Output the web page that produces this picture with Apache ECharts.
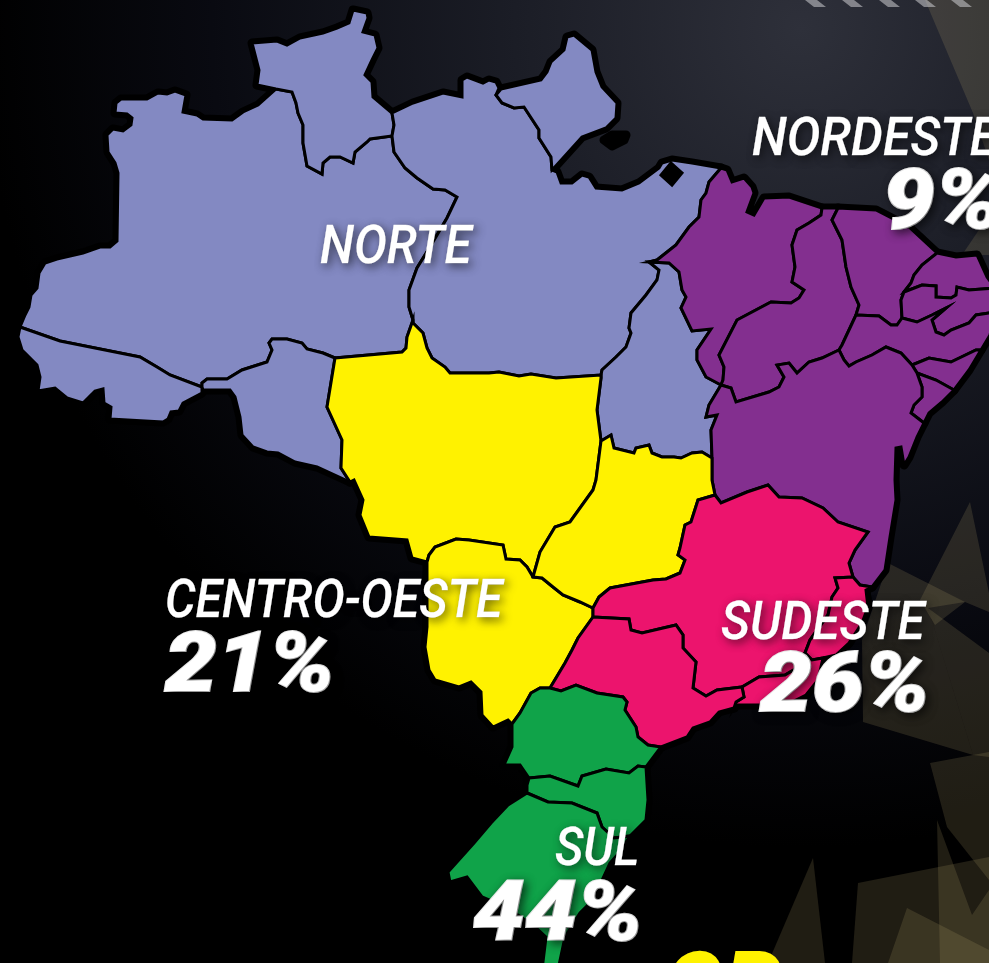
<!DOCTYPE html>
<html>
<head>
<meta charset="utf-8">
<title>Brasil</title>
<style>
  html, body { margin: 0; padding: 0; background: #000; overflow: hidden; }
  #main { width: 989px; height: 963px; }
</style>
<script src="https://cdn.jsdelivr.net/npm/echarts@6/dist/echarts.min.js"></script>
</head>
<body>
<div id="main"></div>
<script>
// regioes e percentuais
const regionNames = ['NORTE', 'NORDESTE', 'CENTRO-OESTE', 'SUDESTE', 'SUL'];
const regionShares = [null, 9, 21, 26, 44];
const regionColors = ['#8389c2', '#832f8f', '#fff200', '#ec146d', '#10a349'];

const norteStates = ['AM', 'AC', 'RO', 'RR', 'PA', 'AP', 'TO'];
const nordesteStates = ['MA', 'PI', 'CE', 'RN', 'PB', 'PE', 'AL', 'SE', 'BA'];
const centroOesteStates = ['MT', 'MS', 'GO'];
const sudesteStates = ['MG', 'ES', 'RJ', 'SP'];
const sulStates = ['PR', 'SC', 'RS'];
const regionStates = [norteStates, nordesteStates, centroOesteStates, sudesteStates, sulStates];

// posicao dos textos: [x do nome, topo do nome, escala, x do %, topo do %]
const labelSpots = {
  'NORTE': [320, 223, 0.93],
  'NORDESTE': [752, 115, 0.95, 883, 165],
  'CENTRO-OESTE': [165, 577, 0.91, 165, 628],
  'SUDESTE': [721, 599, 0.93, 760, 648],
  'SUL': [555, 825, 0.91, 473, 877]
};

// contorno dos estados, em pixels da imagem; cada trecho eh compartilhado entre vizinhos
const edges = {
  amCoast: [[20,327],[25,315],[29,307],[31,295],[37,288],[39,273],[45,263],[57,259],[83,253],[100,247],[110,247],[117,241],[118,173],[115,163],[108,152],[107,135],[113,129],[123,131],[131,125],[132,118],[127,114],[115,113],[116,103],[121,99],[147,99],[158,93],[167,94],[175,91],[186,95],[183,112],[197,115],[203,119],[232,120],[243,112],[258,105],[276,89]],
  amRr: [[276,89],[292,92],[296,103],[298,113],[303,125],[303,143],[307,166],[322,174],[323,163],[330,157],[340,157],[353,163],[355,152],[367,142],[370,139],[392,136]],
  rrCoast: [[276,89],[257,85],[259,70],[252,43],[277,41],[287,45],[300,38],[323,33],[337,28],[349,23],[353,10],[367,13],[368,18],[363,32],[375,35],[378,48],[372,60],[365,75],[372,82],[373,97],[392,113]],
  rrPa: [[392,113],[394,125],[392,136]],
  amPa: [[392,136],[394,152],[405,168],[417,178],[433,189],[445,190],[457,197],[447,218],[430,247],[417,268],[409,290],[409,307],[413,320]],
  amMt: [[413,320],[407,337],[406,348],[402,352],[335,358]],
  amRo: [[335,358],[323,353],[307,349],[302,343],[287,339],[272,339],[269,343],[272,350],[267,362],[242,370],[227,379],[207,379],[202,383],[202,387]],
  amAc: [[202,387],[170,375],[157,367],[140,357],[100,349],[60,341],[20,327]],
  acOuter: [[20,327],[18,337],[22,350],[37,365],[40,377],[38,391],[55,388],[67,398],[83,403],[95,391],[103,389],[104,403],[111,407],[110,419],[163,422],[168,419],[171,412],[179,411],[183,403],[202,393],[202,387]],
  roOuter: [[202,387],[203,390],[230,390],[235,397],[240,417],[242,435],[253,447],[267,452],[278,453],[295,462],[317,467],[350,482]],
  roMt: [[350,482],[341,468],[342,440],[327,407],[335,358]],
  paCoast: [[392,113],[413,103],[443,93],[462,97],[462,80],[467,77],[483,83],[489,80],[496,82],[499,88],[496,95]],
  apPa: [[496,95],[502,103],[514,108],[524,107],[539,130],[539,138],[551,157],[552,170]],
  apCoast: [[496,95],[501,89],[541,80],[547,72],[551,62],[564,50],[567,37],[574,35],[592,50],[596,72],[602,87],[617,103],[616,118],[606,128],[582,137],[554,168],[552,170]],
  paCoast2: [[552,170],[557,172],[561,183],[572,183],[582,175],[589,177],[596,188],[622,190],[639,183],[659,168],[662,163],[672,160],[692,163],[721,168]],
  paMa: [[721,168],[709,182],[706,193],[701,200],[699,217],[689,227],[676,245],[657,260],[649,262]],
  paTo: [[649,262],[659,270],[657,280],[646,295],[631,313],[629,328],[631,333],[626,347],[616,357],[602,370],[601,375]],
  paMt: [[601,375],[556,378],[531,374],[519,376],[499,372],[489,373],[450,373],[445,367],[432,358],[427,348],[423,333],[413,323],[413,320]],
  toMa: [[649,262],[669,263],[679,272],[682,290],[686,297],[681,308],[692,331],[711,329],[697,350],[697,360],[706,377],[721,385]],
  toBa: [[721,385],[709,405],[706,417],[717,415],[711,430],[712,458]],
  toGo: [[712,458],[702,452],[692,453],[681,458],[674,457],[662,457],[652,453],[649,445],[636,448],[634,453],[614,448],[611,435],[601,441]],
  toMt: [[601,441],[597,410],[601,378],[601,375]],
  maCoast: [[721,168],[727,170],[732,182],[744,178],[752,187],[754,193],[747,212],[754,215],[764,198],[789,197],[822,208]],
  maPi: [[822,208],[821,215],[809,223],[797,230],[792,245],[795,267],[792,282],[804,290],[799,298],[791,303],[771,302],[737,320],[719,355],[724,367],[723,380],[721,385]],
  piCoast: [[822,208],[838,208]],
  piCe: [[838,208],[832,220],[842,240],[846,267],[851,287],[859,305],[856,315]],
  piPe: [[856,315],[842,345],[839,350]],
  piBa: [[839,350],[822,358],[809,362],[797,373],[789,363],[777,365],[784,377],[779,387],[769,392],[736,402],[731,388],[721,385]],
  ceCoast: [[838,208],[876,210],[909,227],[937,253]],
  ceRn: [[937,253],[922,265],[914,275],[911,283],[904,292]],
  cePb: [[904,292],[901,300],[902,318]],
  cePe: [[902,318],[897,325],[891,325],[879,316],[856,315]],
  rnCoast: [[937,253],[956,257],[977,255],[987,277],[995,288]],
  rnPb: [[995,288],[969,290],[957,287],[956,295],[951,298],[936,297],[936,286],[922,285],[904,292]],
  pbEast: [[995,288],[995,312]],
  pbPe: [[995,312],[976,315],[969,323],[951,330],[944,335],[936,332],[932,320],[946,308],[932,315],[917,322],[902,318]],
  peCoast: [[995,312],[990,335],[981,350]],
  peAl: [[981,350],[976,350],[951,362],[929,358],[912,365]],
  peBa: [[912,365],[901,353],[886,347],[872,355],[856,362],[849,366],[844,360],[839,350]],
  alCoast: [[981,350],[969,370],[954,390]],
  alSe: [[954,390],[936,380],[917,373]],
  alBa: [[917,373],[912,365]],
  seCoast: [[954,390],[942,402],[929,413],[924,423]],
  seBa: [[924,423],[911,413],[914,405],[922,397],[922,387],[917,373]],
  baCoast: [[924,423],[917,437],[909,457],[904,465],[901,447],[896,448],[895,480],[896,500],[890,537],[885,570],[872,587]],
  baEs: [[872,587],[860,585],[853,577]],
  baMg: [[853,577],[849,563],[855,550],[868,532],[838,522],[823,508],[802,498],[779,497],[768,485],[747,492],[721,503],[715,495]],
  baGo: [[715,495],[712,480],[712,458]],
  mgEs: [[853,577],[835,578],[838,588],[832,597],[828,615],[810,640],[805,653]],
  esRj: [[805,653],[812,660],[823,658]],
  esCoast: [[872,587],[866,590],[868,607],[862,623],[849,643],[836,655],[823,658]],
  rjCoast: [[823,658],[818,680],[806,695],[790,703],[760,705],[736,705],[734,708]],
  spRj: [[734,708],[736,702],[744,697],[742,687]],
  mgRj: [[742,687],[759,677],[785,675],[797,668],[805,653]],
  goMg: [[715,495],[698,500],[691,522],[685,525],[680,548],[678,555],[685,560],[680,573],[666,579],[653,580],[610,588],[599,597],[593,608]],
  mgSp: [[742,687],[717,690],[706,696],[693,688],[696,662],[683,648],[683,635],[676,625],[642,633],[631,630],[629,619],[593,617]],
  msMg: [[593,617],[593,608]],
  goMs: [[593,608],[580,602],[563,595],[553,587],[542,578],[533,577]],
  mtGo: [[601,441],[596,480],[593,490],[570,522],[555,527],[540,552],[533,577]],
  mtMs: [[533,577],[527,567],[520,560],[506,559],[503,545],[469,540],[456,539],[435,547],[429,555],[427,562]],
  mtOuter: [[427,562],[412,558],[407,540],[369,537],[360,515],[363,500],[354,480],[350,482]],
  msSp: [[593,617],[578,638],[572,650],[565,663],[550,688]],
  msPr: [[550,688],[540,688],[531,693],[520,713],[512,724]],
  msOuter: [[512,724],[508,720],[493,727],[482,715],[481,692],[471,682],[459,687],[435,680],[429,670],[425,647],[427,627],[427,562]],
  spCoast: [[734,708],[719,712],[710,722],[693,728],[687,737],[661,747]],
  prSp: [[550,688],[561,691],[576,685],[597,693],[623,697],[627,702],[625,710],[636,727],[638,737],[648,745],[661,747]],
  prCoast: [[661,747],[646,767]],
  prSc: [[529,778],[550,776],[578,786],[582,776],[606,769],[629,773],[638,766],[646,767]],
  prWest: [[529,778],[520,765],[504,765],[512,747],[512,724]],
  scCoast: [[646,767],[648,800],[646,820],[630,836]],
  rsSc: [[527,793],[548,802],[572,803],[597,813],[602,827],[614,838],[630,836]],
  scWest: [[527,793],[527,785],[529,778]],
  rsOuter: [[630,836],[619,853],[610,863],[593,900],[580,913],[565,937],[558,970],[542,970],[546,937],[535,927],[508,908],[482,897],[467,877],[450,882],[448,872],[474,843],[491,823],[508,805],[527,793]]
};

// '-' na frente percorre o trecho ao contrario
const stateRings = {
  AM: ['amCoast', 'amRr', 'amPa', 'amMt', 'amRo', 'amAc'],
  AC: ['acOuter', 'amAc'],
  RO: ['roOuter', 'roMt', 'amRo'],
  RR: ['rrCoast', 'rrPa', '-amRr'],
  PA: ['paCoast', 'apPa', 'paCoast2', 'paMa', 'paTo', 'paMt', '-amPa', '-rrPa'],
  AP: ['apCoast', '-apPa'],
  TO: ['toMa', 'toBa', 'toGo', 'toMt', '-paTo'],
  MA: ['maCoast', 'maPi', '-toMa', '-paMa'],
  PI: ['piCoast', 'piCe', 'piPe', 'piBa', '-maPi'],
  CE: ['ceCoast', 'ceRn', 'cePb', 'cePe', '-piCe'],
  RN: ['rnCoast', 'rnPb', '-ceRn'],
  PB: ['-rnPb', 'pbEast', 'pbPe', '-cePb'],
  PE: ['-cePe', '-pbPe', 'peCoast', 'peAl', 'peBa', '-piPe'],
  AL: ['alCoast', 'alSe', 'alBa', '-peAl'],
  SE: ['seCoast', 'seBa', '-alSe'],
  BA: ['baCoast', 'baEs', 'baMg', 'baGo', '-toBa', '-piBa', '-peBa', '-alBa', '-seBa'],
  MT: ['-paMt', '-toMt', 'mtGo', 'mtMs', 'mtOuter', 'roMt', '-amMt'],
  MS: ['-mtMs', '-goMs', '-msMg', 'msSp', 'msPr', 'msOuter'],
  GO: ['-toGo', '-baGo', 'goMg', 'goMs', '-mtGo'],
  MG: ['-baMg', 'mgEs', '-mgRj', 'mgSp', 'msMg', '-goMg'],
  ES: ['esCoast', '-esRj', '-mgEs', '-baEs'],
  RJ: ['esRj', 'rjCoast', 'spRj', 'mgRj'],
  SP: ['-mgSp', '-spRj', 'spCoast', '-prSp', '-msSp'],
  PR: ['-msPr', 'prSp', 'prCoast', '-prSc', 'prWest'],
  SC: ['prSc', 'scCoast', '-rsSc', 'scWest'],
  RS: ['rsSc', 'rsOuter']
};

// marcas pretas do litoral do Para
const blackMarks = {
  diamante: [[671,163],[682,173],[672,185],[661,175]],
  marajo: [[604,140],[612,135],[626,135],[624,140],[612,146]]
};

// triangulos dourados do fundo
const backdropShards = [
  [[925,0],[989,0],[989,160],[973,113]],
  [[962,255],[989,215],[989,255]],
  [[888,563],[965,602],[928,608],[973,755],[863,722],[862,640]],
  [[970,502],[920,600],[935,625],[965,602],[989,612],[989,593]],
  [[928,608],[989,653],[989,757],[973,755]],
  [[930,763],[989,752],[989,880],[947,827]],
  [[937,820],[972,915],[989,890],[989,963],[940,963]],
  [[858,883],[989,857],[989,963],[852,963]],
  [[813,858],[768,963],[825,963]],
  [[907,908],[888,963],[989,963],[989,950]]
];
const topDashes = [805, 842, 879, 915, 951];

function ringPoints(names) {
  const points = [];
  names.forEach((name) => {
    const reversed = name[0] === '-';
    const edge = edges[reversed ? name.slice(1) : name];
    const part = reversed ? edge.slice().reverse() : edge;
    part.forEach((p, index) => {
      if (index > 0 || points.length === 0) points.push(p);
    });
  });
  return points;
}

function buildGeoJson() {
  const polygon = (name, ring) => ({
    type: 'Feature', properties: { name }, geometry: { type: 'Polygon', coordinates: [ring] }
  });
  const features = Object.keys(stateRings).map((name) => polygon(name, ringPoints(stateRings[name])));
  Object.keys(blackMarks).forEach((name) => features.push(polygon(name, blackMarks[name])));
  return { type: 'FeatureCollection', features };
}

function buildStateData() {
  const data = [];
  regionStates.forEach((states, index) => {
    states.forEach((name) => {
      data.push({ name, value: regionShares[index], itemStyle: { areaColor: regionColors[index] } });
    });
  });
  return data;
}

function textElement(text, x, y, font, scaleX, strokeWidth) {
  return {
    type: 'text', x, y, scaleX, z: 10, silent: true,
    style: {
      text, font, fill: '#fff', stroke: '#fff', lineWidth: strokeWidth, strokeFirst: true,
      textShadowBlur: 10, textShadowColor: 'rgba(0,0,0,0.6)', textShadowOffsetX: 3, textShadowOffsetY: 3
    }
  };
}

function buildLabels() {
  const elements = [];
  regionNames.forEach((name, index) => {
    const spot = labelSpots[name];
    elements.push(textElement(name, spot[0], spot[1], 'italic 500 53px Roboto', spot[2], 0.3));
    if (regionShares[index] !== null) {
      elements.push(textElement(regionShares[index] + '%', spot[3], spot[4], 'italic 900 84px Roboto', 1.1, 2));
    }
  });
  return elements;
}

function buildBackdrop() {
  const elements = backdropShards.map((points) => ({
    type: 'polygon', z: -1, silent: true,
    shape: { points },
    style: { fill: 'rgba(200,180,120,0.16)' }
  }));
  topDashes.forEach((x) => {
    elements.push({
      type: 'polygon', z: -1, silent: true,
      shape: { points: [[x, 0], [x + 12, 0], [x + 21, 7], [x + 9, 7]] },
      style: { fill: 'rgba(205,205,210,0.55)' }
    });
  });
  // topo das letras amarelas cortadas na borda de baixo
  elements.push({
    type: 'text', x: 664, y: 948, z: 10, silent: true,
    style: { text: 'OP', font: 'italic 900 90px Roboto', fill: '#fff200' }
  });
  return elements;
}

function render() {
  echarts.registerMap('brasil', buildGeoJson());
  const chart = echarts.init(document.getElementById('main'), null, { width: 989, height: 963 });
  const flat = { project: (p) => p, unproject: (p) => p };
  const frame = [[0, 0], [989, 963]];

  chart.setOption({
    animation: false,
    backgroundColor: new echarts.graphic.RadialGradient(0.81, 0.03, 0.85, [
      { offset: 0, color: '#2e303a' },
      { offset: 0.35, color: '#1b1d26' },
      { offset: 0.72, color: '#090a11' },
      { offset: 1, color: '#000000' }
    ]),
    graphic: { elements: buildBackdrop().concat(buildLabels()) },
    geo: {
      map: 'brasil', projection: flat, boundingCoords: frame,
      left: 0, top: 0, width: 989, height: 963,
      roam: false, silent: true, z: 0,
      label: { show: false },
      itemStyle: { areaColor: '#000', borderColor: '#000', borderWidth: 9, borderJoin: 'round' },
      emphasis: { disabled: true }
    },
    series: [
      {
        type: 'map', map: 'brasil', projection: flat, boundingCoords: frame,
        left: 0, top: 0, width: 989, height: 963,
        roam: false, silent: true, z: 2,
        label: { show: false },
        itemStyle: { areaColor: '#000', borderColor: '#000', borderWidth: 3 },
        emphasis: { disabled: true },
        select: { disabled: true },
        data: buildStateData()
      }
    ]
  });
}

render();
</script>
</body>
</html>
